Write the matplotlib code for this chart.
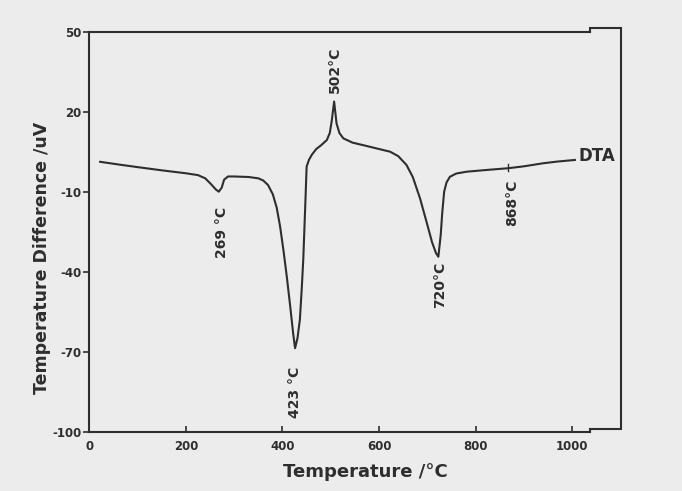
import matplotlib
matplotlib.use("Agg")
import matplotlib.pyplot as plt

plt.rcParams["axes.unicode_minus"] = False

# ---------------------------------------------------------------------------
# Data
# ---------------------------------------------------------------------------
temp = [22, 60, 100, 150, 200, 225, 240, 252, 262, 268, 274, 279, 287,
        300, 330, 350, 360, 370, 380, 388, 395, 402, 409, 416, 422, 426,
        431, 436, 440, 443, 447, 450, 455, 461, 470, 480, 492, 498, 502,
        507, 512, 518, 526, 545, 575, 600, 623, 640, 657, 670, 685, 698,
        710, 718, 723, 728, 731, 735, 740, 747, 760, 782, 820, 868, 900,
        940, 970, 1006]
dta = [1.2, 0.2, -0.8, -2.0, -3.1, -3.8, -5.0, -7.2, -9.2, -10.0, -8.5,
       -5.5, -4.3, -4.3, -4.5, -5.0, -5.8, -7.5, -11.0, -16.0, -23.0,
       -32.0, -42.0, -53.0, -63.0, -68.7, -65.0, -58.0, -46.0, -35.6,
       -16.0, -0.6, 2.0, 3.9, 6.0, 7.4, 9.4, 12.0, 16.5, 23.8, 15.6, 12.0,
       10.0, 8.4, 7.1, 6.0, 5.0, 3.3, 0.0, -4.5, -12.5, -21.0, -29.0,
       -33.0, -34.4, -26.0, -18.0, -10.0, -6.5, -4.4, -3.2, -2.5, -1.9,
       -1.2, -0.5, 0.65, 1.3, 1.9]

peak_labels = ["269 °C", "423 °C", "502°C", "720°C", "868°C"]
peak_x      = [274, 426, 509, 726, 875]
peak_y      = [-15.6, -75.6, 26.9, -36.2, -5.6]
peak_va     = ["top", "top", "bottom", "top", "top"]

xticks = [0, 200, 400, 600, 800, 1000]
yticks = [50, 20, -10, -40, -70, -100]

INK = "#2e2e2e"
BG = "#ececec"

fig = plt.figure(figsize=(6.82, 4.91), dpi=100, facecolor=BG)
ax = fig.add_axes([0.1312, 0.1208, 0.7783, 0.8147], facecolor=BG)

ax.plot(temp, dta, color=INK, lw=1.5, solid_joinstyle="round")

# small marker tick at 868 °C
ax.plot([868, 868], [-2.4, 0.2], color=INK, lw=1.0)

for lbl, x, y, va in zip(peak_labels, peak_x, peak_y, peak_va):
    ax.text(x, y, lbl, rotation=90, ha="center", va=va, fontsize=10,
            fontweight="bold", color=INK)

ax.text(1013, 3.3, "DTA", ha="left", va="center", fontsize=12,
        fontweight="bold", color=INK)

ax.set_xlim(0, 1100)
ax.set_ylim(-100, 50)
ax.set_xticks(xticks)
ax.set_yticks(yticks)

for s in ("top", "right"):
    ax.spines[s].set_visible(False)
for s in ("left", "bottom"):
    ax.spines[s].set_color(INK)
    ax.spines[s].set_linewidth(1.5)
ax.spines["bottom"].set_bounds(0, 1038)

# hand-drawn frame: top line and the slightly offset right-hand piece
frame_kw = dict(color=INK, lw=1.5, clip_on=False, solid_joinstyle="miter")
ax.plot([0, 1038], [50, 50], **frame_kw)
ax.plot([1038, 1038, 1102, 1102, 1038, 1038],
        [50, 51.3, 51.3, -99.0, -99.0, -100], **frame_kw)

ax.tick_params(axis="x", direction="in", length=4, width=1.2, pad=6,
               colors=INK, labelsize=8.5)
ax.tick_params(axis="y", direction="out", length=4, width=1.2, pad=1.5,
               colors=INK, labelsize=8.5)
for t in ax.get_xticklabels() + ax.get_yticklabels():
    t.set_fontweight("bold")

fig.text(42 / 682, 1 - 258 / 491, "Temperature Difference /uV",
         rotation=90, ha="center", va="center", fontsize=12.5,
         fontweight="bold", color=INK)
fig.text(365 / 682, 1 - 472 / 491, "Temperature /°C", ha="center",
         va="center", fontsize=13, fontweight="bold", color=INK)

fig.savefig("out.png", dpi=100, facecolor=BG)
